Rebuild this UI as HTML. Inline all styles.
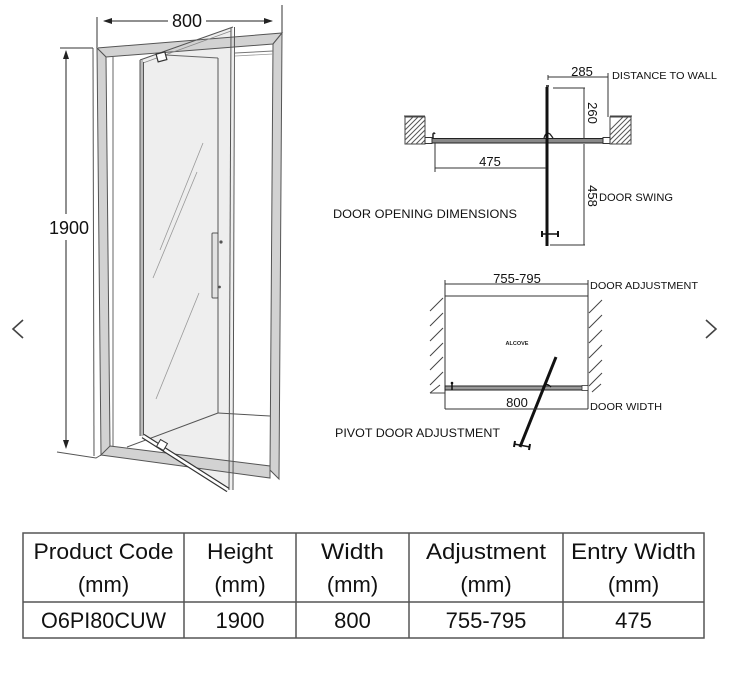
<!DOCTYPE html>
<html><head><meta charset="utf-8"><style>
html,body{margin:0;padding:0;background:#fff;}
svg{display:block;}
</style></head><body>
<svg width="740" height="700" viewBox="0 0 740 700" xmlns="http://www.w3.org/2000/svg" font-family="'Liberation Sans', Arial, sans-serif">
<defs>
<clipPath id="wl"><rect x="405" y="117" width="20" height="27"/></clipPath>
<clipPath id="wr"><rect x="610" y="117" width="21" height="27"/></clipPath>
</defs>
<rect width="740" height="700" fill="#fff"/>

<!-- chevrons -->
<polyline points="23,320 13,329 23,338" fill="none" stroke="#444" stroke-width="1.6"/>
<polyline points="706,320 716,329 706,338" fill="none" stroke="#444" stroke-width="1.6"/>

<!-- ===== DOOR PERSPECTIVE ===== -->
<!-- glass -->
<polygon points="140,60 233,27 233,490 228,490 143,436" fill="#eeeeee"/>
<!-- dimension 800 -->
<line x1="97" y1="17" x2="97" y2="47" stroke="#333" stroke-width="1"/>
<line x1="282" y1="5" x2="282" y2="33" stroke="#333" stroke-width="1"/>
<line x1="104" y1="21" x2="168" y2="21" stroke="#222" stroke-width="1"/>
<line x1="206" y1="21" x2="272" y2="21" stroke="#222" stroke-width="1"/>
<polygon points="103,21 112,18 112,24" fill="#222"/>
<polygon points="273,21 264,18 264,24" fill="#222"/>
<text x="187" y="27" font-size="18" text-anchor="middle" fill="#111">800</text>
<!-- dimension 1900 -->
<line x1="60" y1="48" x2="93" y2="48" stroke="#333" stroke-width="1"/>
<line x1="66" y1="51" x2="66" y2="214" stroke="#222" stroke-width="1"/>
<line x1="66" y1="240" x2="66" y2="447" stroke="#222" stroke-width="1"/>
<polygon points="66,50 63,59 69,59" fill="#222"/>
<polygon points="66,449 63,440 69,440" fill="#222"/>
<text x="69" y="234" font-size="18" text-anchor="middle" fill="#111">1900</text>
<!-- wall line -->
<line x1="93" y1="48" x2="94" y2="456" stroke="#555" stroke-width="1"/>
<polyline points="57,452 96,458 101,455" fill="none" stroke="#555" stroke-width="1"/>

<!-- frame top bar -->
<polygon points="97,48 282,33 273,44 106,57" fill="#d2d2d2" stroke="#555" stroke-width="1"/>
<!-- left post -->
<polygon points="97,48 106,57 110,447 101,455" fill="#d2d2d2" stroke="#555" stroke-width="1"/>
<line x1="113" y1="57" x2="113" y2="447" stroke="#666" stroke-width="1"/>
<!-- right post -->
<polygon points="273,44 282,33 279,479 270,470" fill="#d2d2d2" stroke="#555" stroke-width="1"/>
<!-- bottom bar -->
<polygon points="110,446 270,466 270,478 101,455" fill="#d2d2d2" stroke="#555" stroke-width="1"/>

<!-- interior lines -->
<line x1="166" y1="55" x2="218" y2="58" stroke="#666" stroke-width="1"/>
<line x1="218" y1="58" x2="218" y2="413" stroke="#555" stroke-width="1"/>
<line x1="218" y1="413" x2="270" y2="416" stroke="#555" stroke-width="1"/>
<line x1="218" y1="413" x2="127" y2="447" stroke="#555" stroke-width="1"/>
<line x1="235" y1="53" x2="273" y2="51" stroke="#777" stroke-width="1"/>
<line x1="235" y1="56" x2="273" y2="54" stroke="#999" stroke-width="0.8"/>

<!-- door leaf -->
<line x1="140" y1="60" x2="233" y2="27" stroke="#555" stroke-width="1"/>
<line x1="143" y1="63" x2="231" y2="31" stroke="#888" stroke-width="0.8"/>
<rect x="140" y="60" width="3" height="376" fill="#bbb"/>
<line x1="140" y1="60" x2="140" y2="436" stroke="#555" stroke-width="1"/>
<line x1="143.5" y1="62" x2="143.5" y2="436" stroke="#555" stroke-width="1"/>
<line x1="231" y1="28" x2="229" y2="490" stroke="#555" stroke-width="1"/>
<line x1="234.5" y1="27" x2="233" y2="490" stroke="#555" stroke-width="1"/>
<!-- door bottom bar -->
<line x1="143" y1="436" x2="228" y2="490" stroke="#333" stroke-width="5"/>
<line x1="143" y1="436" x2="228" y2="490" stroke="#fff" stroke-width="2.6"/>
<rect x="158" y="441" width="8" height="8" fill="#fff" stroke="#333" stroke-width="1" transform="rotate(30 162 445)"/>
<!-- top pivot -->
<rect x="157" y="53" width="9" height="8" fill="#fff" stroke="#333" stroke-width="1.2" transform="rotate(-15 161 57)"/>
<!-- reflections -->
<line x1="203" y1="143" x2="160" y2="250" stroke="#999" stroke-width="0.8"/>
<line x1="197" y1="172" x2="153" y2="278" stroke="#999" stroke-width="0.8"/>
<line x1="199" y1="293" x2="156" y2="399" stroke="#999" stroke-width="0.8"/>
<!-- handle -->
<rect x="212" y="233" width="6" height="65" rx="1" fill="#e2e2e2" stroke="#555" stroke-width="1"/>
<circle cx="221" cy="242" r="1.6" fill="#555"/>
<circle cx="219.5" cy="287" r="1.4" fill="#555"/>

<!-- ===== DOOR OPENING DIMENSIONS ===== -->
<!-- walls -->
<line x1="404" y1="116" x2="425" y2="116" stroke="#444" stroke-width="1"/>
<rect x="405" y="117" width="20" height="27" fill="none" stroke="#444" stroke-width="1"/>
<g clip-path="url(#wl)" stroke="#555" stroke-width="1">
<line x1="395" y1="150" x2="430" y2="115"/><line x1="400" y1="150" x2="435" y2="115"/><line x1="405" y1="150" x2="440" y2="115"/><line x1="410" y1="150" x2="445" y2="115"/><line x1="415" y1="150" x2="450" y2="115"/><line x1="390" y1="150" x2="425" y2="115"/><line x1="385" y1="150" x2="420" y2="115"/><line x1="380" y1="150" x2="415" y2="115"/>
</g>
<line x1="610" y1="116" x2="632" y2="116" stroke="#444" stroke-width="1"/>
<rect x="610" y="117" width="21" height="27" fill="none" stroke="#444" stroke-width="1"/>
<g clip-path="url(#wr)" stroke="#555" stroke-width="1">
<line x1="590" y1="150" x2="625" y2="115"/><line x1="595" y1="150" x2="630" y2="115"/><line x1="600" y1="150" x2="635" y2="115"/><line x1="605" y1="150" x2="640" y2="115"/><line x1="610" y1="150" x2="645" y2="115"/><line x1="615" y1="150" x2="650" y2="115"/><line x1="620" y1="150" x2="655" y2="115"/><line x1="625" y1="150" x2="660" y2="115"/>
</g>
<!-- panel bar -->
<rect x="431" y="138.5" width="173" height="4.5" fill="#888" stroke="#222" stroke-width="1"/>
<rect x="425" y="137.5" width="7" height="6" fill="#fff" stroke="#333" stroke-width="1"/>
<rect x="603" y="137.5" width="7" height="6" fill="#fff" stroke="#333" stroke-width="1"/>
<path d="M433,138 L433,134 Q434,132 435,134" fill="none" stroke="#222" stroke-width="1.5"/>
<path d="M544,138 Q546,131 550,134 L553,138" fill="none" stroke="#222" stroke-width="1.3"/>
<!-- door vertical -->
<path d="M547,87 L547,246" stroke="#111" stroke-width="3" fill="none"/>
<path d="M546,86 L549,86" stroke="#111" stroke-width="1.5"/>
<!-- handle -->
<line x1="542" y1="234" x2="558" y2="234" stroke="#111" stroke-width="1.5"/>
<line x1="542" y1="231" x2="542" y2="237" stroke="#111" stroke-width="2"/>
<line x1="558" y1="231" x2="558" y2="237" stroke="#111" stroke-width="2"/>
<!-- 285 -->
<line x1="548" y1="77" x2="608" y2="77" stroke="#333" stroke-width="1"/>
<line x1="548" y1="75" x2="548" y2="80" stroke="#333" stroke-width="1"/>
<line x1="608" y1="73" x2="608" y2="117" stroke="#333" stroke-width="1"/>
<text x="582" y="76" font-size="13" text-anchor="middle" fill="#111">285</text>
<text x="612" y="79" font-size="10.5" fill="#111" textLength="105" lengthAdjust="spacingAndGlyphs">DISTANCE TO WALL</text>
<!-- 260 -->
<line x1="553" y1="88" x2="585" y2="88" stroke="#333" stroke-width="1"/>
<line x1="584" y1="88" x2="584" y2="139" stroke="#333" stroke-width="1"/>
<text transform="translate(588,113) rotate(90)" font-size="13" text-anchor="middle" fill="#111">260</text>
<!-- 475 -->
<line x1="435" y1="143" x2="435" y2="172" stroke="#333" stroke-width="1"/>
<line x1="435" y1="168" x2="546" y2="168" stroke="#333" stroke-width="1"/>
<text x="490" y="166" font-size="13" text-anchor="middle" fill="#111">475</text>
<!-- 458 -->
<line x1="584" y1="144" x2="584" y2="245" stroke="#333" stroke-width="1"/>
<line x1="550" y1="245" x2="585" y2="245" stroke="#333" stroke-width="1"/>
<text transform="translate(588,196) rotate(90)" font-size="13" text-anchor="middle" fill="#111">458</text>
<text x="599" y="201" font-size="11" fill="#111" textLength="74" lengthAdjust="spacingAndGlyphs">DOOR SWING</text>
<text x="333" y="218" font-size="11.5" fill="#111" textLength="184" lengthAdjust="spacingAndGlyphs">DOOR OPENING DIMENSIONS</text>

<!-- ===== ALCOVE ===== -->
<line x1="445" y1="280" x2="445" y2="409" stroke="#333" stroke-width="1"/>
<line x1="588" y1="280" x2="588" y2="409" stroke="#333" stroke-width="1"/>
<line x1="445" y1="284" x2="588" y2="284" stroke="#333" stroke-width="1"/>
<line x1="445" y1="296" x2="588" y2="296" stroke="#333" stroke-width="1"/>
<text x="517" y="283" font-size="13" text-anchor="middle" fill="#111">755-795</text>
<text x="590" y="289" font-size="10.5" fill="#111" textLength="108" lengthAdjust="spacingAndGlyphs">DOOR ADJUSTMENT</text>
<g stroke="#444" stroke-width="1">
<line x1="430" y1="311" x2="443" y2="298"/><line x1="430" y1="326" x2="443" y2="313"/><line x1="430" y1="341" x2="443" y2="328"/><line x1="430" y1="356" x2="443" y2="343"/><line x1="430" y1="370" x2="443" y2="357"/><line x1="430" y1="385" x2="443" y2="372"/><line x1="430" y1="393" x2="440" y2="385"/>
<line x1="589" y1="313" x2="602" y2="300"/><line x1="589" y1="328" x2="602" y2="315"/><line x1="589" y1="343" x2="602" y2="330"/><line x1="589" y1="358" x2="602" y2="345"/><line x1="589" y1="373" x2="602" y2="360"/><line x1="589" y1="386" x2="602" y2="373"/><line x1="592" y1="392" x2="601" y2="384"/>
<line x1="430" y1="393" x2="445" y2="393"/>
</g>
<text x="517" y="345" font-size="5.5" font-weight="bold" text-anchor="middle" fill="#222">ALCOVE</text>
<!-- door bar -->
<rect x="445" y="386" width="142" height="4" fill="#999" stroke="#222" stroke-width="1"/>
<rect x="582" y="385.5" width="6" height="5" fill="#fff" stroke="#333" stroke-width="0.8"/>
<line x1="452" y1="383" x2="452" y2="390" stroke="#111" stroke-width="1.5"/>
<circle cx="452" cy="383" r="1.3" fill="#111"/>
<!-- diagonal door -->
<line x1="556" y1="357" x2="520" y2="447" stroke="#111" stroke-width="3"/>
<path d="M543,387 Q546,382 551,387" fill="none" stroke="#111" stroke-width="1.3"/>
<line x1="514" y1="444" x2="530" y2="447" stroke="#111" stroke-width="1.5"/>
<line x1="515" y1="441" x2="514" y2="447" stroke="#111" stroke-width="2"/>
<line x1="530" y1="444" x2="529" y2="450" stroke="#111" stroke-width="2"/>
<!-- 800 -->
<line x1="445" y1="409" x2="588" y2="409" stroke="#333" stroke-width="1"/>
<text x="517" y="407" font-size="13" text-anchor="middle" fill="#111">800</text>
<text x="590" y="410" font-size="10.5" fill="#111" textLength="72" lengthAdjust="spacingAndGlyphs">DOOR WIDTH</text>
<text x="335" y="437" font-size="11.5" fill="#111" textLength="165" lengthAdjust="spacingAndGlyphs">PIVOT DOOR ADJUSTMENT</text>

<!-- ===== TABLE ===== -->
<g stroke="#555" stroke-width="1.5" fill="none">
<rect x="23" y="533" width="681" height="105"/>
<line x1="23" y1="602" x2="704" y2="602"/>
<line x1="184" y1="533" x2="184" y2="638"/>
<line x1="296" y1="533" x2="296" y2="638"/>
<line x1="409" y1="533" x2="409" y2="638"/>
<line x1="563" y1="533" x2="563" y2="638"/>
</g>
<g font-size="22" fill="#111" text-anchor="middle">
<text x="103.5" y="559" textLength="140" lengthAdjust="spacingAndGlyphs">Product Code</text>
<text x="103.5" y="592">(mm)</text>
<text x="240" y="559" textLength="66" lengthAdjust="spacingAndGlyphs">Height</text>
<text x="240" y="592">(mm)</text>
<text x="352.5" y="559" textLength="63" lengthAdjust="spacingAndGlyphs">Width</text>
<text x="352.5" y="592">(mm)</text>
<text x="486" y="559" textLength="120" lengthAdjust="spacingAndGlyphs">Adjustment</text>
<text x="486" y="592">(mm)</text>
<text x="633.5" y="559" textLength="125" lengthAdjust="spacingAndGlyphs">Entry Width</text>
<text x="633.5" y="592">(mm)</text>
<text x="103.5" y="628" textLength="125" lengthAdjust="spacingAndGlyphs">O6PI80CUW</text>
<text x="240" y="628">1900</text>
<text x="352.5" y="628">800</text>
<text x="486" y="628">755-795</text>
<text x="633.5" y="628">475</text>
</g>
</svg>
</body></html>
